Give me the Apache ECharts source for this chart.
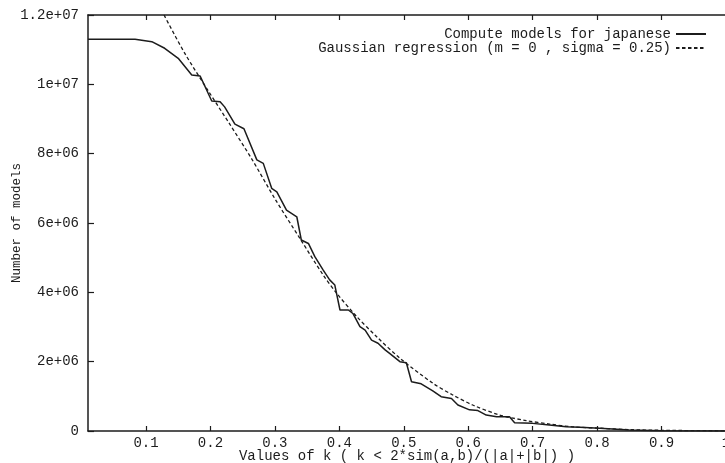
<!DOCTYPE html>
<html>
<head>
<meta charset="utf-8">
<script src="https://cdn.jsdelivr.net/npm/echarts@6/dist/echarts.min.js"></script>
<style>
  html, body { margin: 0; padding: 0; background: #fff; }
  #chart { width: 725px; height: 463px; }
</style>
</head>
<body>
<div id="chart"></div>
<script>
// values
const kModels = [0.01, 0.083, 0.109, 0.129, 0.150, 0.171, 0.184, 0.202, 0.215, 0.222, 0.238, 0.252,
  0.272, 0.282, 0.295, 0.303, 0.318, 0.334, 0.341, 0.352, 0.362, 0.375, 0.385, 0.393, 0.401, 0.414,
  0.421, 0.432, 0.440, 0.450, 0.460, 0.471, 0.478, 0.494, 0.504, 0.512, 0.527, 0.545, 0.558, 0.574,
  0.584, 0.602, 0.615, 0.628, 0.644, 0.664, 0.672, 0.700, 0.726, 0.752, 0.773, 0.804, 0.85, 0.90, 1.0];
const nModels = [11300000, 11300000, 11230000, 11040000, 10750000, 10270000, 10240000, 9520000, 9500000,
  9350000, 8850000, 8720000, 7820000, 7720000, 7000000, 6900000, 6370000, 6180000, 5510000, 5410000,
  5030000, 4640000, 4360000, 4210000, 3490000, 3490000, 3390000, 3010000, 2910000, 2620000, 2530000,
  2340000, 2240000, 2000000, 1970000, 1420000, 1360000, 1160000, 990000, 940000, 750000, 610000,
  590000, 460000, 410000, 410000, 240000, 220000, 170000, 120000, 110000, 80000, 30000, 10000, 0];

const kGauss = [0.128, 0.160, 0.197, 0.230, 0.264, 0.300, 0.339, 0.375, 0.396, 0.427, 0.458, 0.494,
  0.545, 0.576, 0.607, 0.649, 0.690, 0.726, 0.762, 0.804, 0.85, 0.90, 1.0];
const nGauss = [12000000, 10900000, 9800000, 8850000, 7850000, 6700000, 5550000, 4500000, 3970000,
  3300000, 2720000, 2100000, 1380000, 1040000, 750000, 460000, 300000, 200000, 120000, 80000, 40000,
  20000, 5000];

const xTicks = [0.1, 0.2, 0.3, 0.4, 0.5, 0.6, 0.7, 0.8, 0.9, 1.0];
const xTickLabels = ["0.1", "0.2", "0.3", "0.4", "0.5", "0.6", "0.7", "0.8", "0.9", "1"];
const yTickLabels = ["0", "2e+06", "4e+06", "6e+06", "8e+06", "1e+07", "1.2e+07"];

const seriesNames = ["Compute models for japanese", "Gaussian regression (m = 0 , sigma = 0.25)"];

const FONT = "'Liberation Mono', 'DejaVu Sans Mono', monospace";
const INK = "#1c1c1c";

let myChart = echarts.init(document.getElementById("chart"));

const AXIS_LINE = { show: true, lineStyle: { color: INK, width: 1.5 } };

const LEGEND_DEFAULT = {
  orient: "horizontal",
  right: 13,
  align: "right",
  itemWidth: 30,
  itemHeight: 12,
  itemStyle: { opacity: 0 },
  textStyle: { fontFamily: FONT, fontSize: 14, color: INK },
};

let option = {
  animation: false,
  backgroundColor: "#fff",
  grid: { left: 88, right: -1, top: 15, bottom: 32, containLabel: false, outerBoundsMode: "none" },
  legend: [
    { ...LEGEND_DEFAULT, top: 22, data: [seriesNames[0]] },
    { ...LEGEND_DEFAULT, top: 36, data: [seriesNames[1]] },
  ],
  xAxis: [
    {
      type: "value",
      min: 0.01,
      max: 1.0,
      position: "bottom",
      name: "Values of k ( k < 2*sim(a,b)/(|a|+|b|) )",
      nameLocation: "middle",
      nameGap: 18,
      nameMoveOverlap: false,
      nameTextStyle: { fontFamily: FONT, fontSize: 14, color: INK },
      axisLine: AXIS_LINE,
      axisTick: { inside: true, length: 5, customValues: xTicks, lineStyle: { color: INK, width: 1.2 } },
      axisLabel: {
        customValues: xTicks,
        margin: 5,
        fontFamily: FONT,
        fontSize: 14,
        color: INK,
        formatter: (value) => xTickLabels[xTicks.findIndex((t) => Math.abs(t - value) < 1e-6)],
      },
      splitLine: { show: false },
    },
    {
      type: "value",
      min: 0.01,
      max: 1.0,
      position: "top",
      axisLine: AXIS_LINE,
      axisTick: { inside: true, length: 5, customValues: xTicks, lineStyle: { color: INK, width: 1.2 } },
      axisLabel: { show: false },
      splitLine: { show: false },
    },
  ],
  yAxis: {
    type: "value",
    min: 0,
    max: 12000000,
    interval: 2000000,
    name: "Number of models",
    nameLocation: "middle",
    nameGap: 65,
    nameRotate: 90,
    nameMoveOverlap: false,
    nameTextStyle: { fontFamily: FONT, fontSize: 12.5, color: INK },
    axisLine: AXIS_LINE,
    axisTick: { inside: true, length: 6, lineStyle: { color: INK, width: 1.2 } },
    axisLabel: {
      margin: 9,
      fontFamily: FONT,
      fontSize: 14,
      color: INK,
      formatter: (value) => yTickLabels[Math.round(value / 2000000)],
    },
    splitLine: { show: false },
  },
  series: [
    {
      name: seriesNames[0],
      type: "line",
      xAxisIndex: 0,
      symbol: "none",
      clip: true,
      data: kModels.map((k, i) => [k, nModels[i]]),
      lineStyle: { color: INK, width: 1.5, type: "solid" },
      itemStyle: { color: INK },
    },
    {
      name: seriesNames[1],
      type: "line",
      xAxisIndex: 0,
      symbol: "none",
      smooth: 0.3,
      clip: true,
      data: kGauss.map((k, i) => [k, nGauss[i]]),
      lineStyle: { color: INK, width: 1.3, type: [3.5, 2.5] },
      itemStyle: { color: INK },
    },
  ],
};

option && myChart.setOption(option);
</script>
</body>
</html>
